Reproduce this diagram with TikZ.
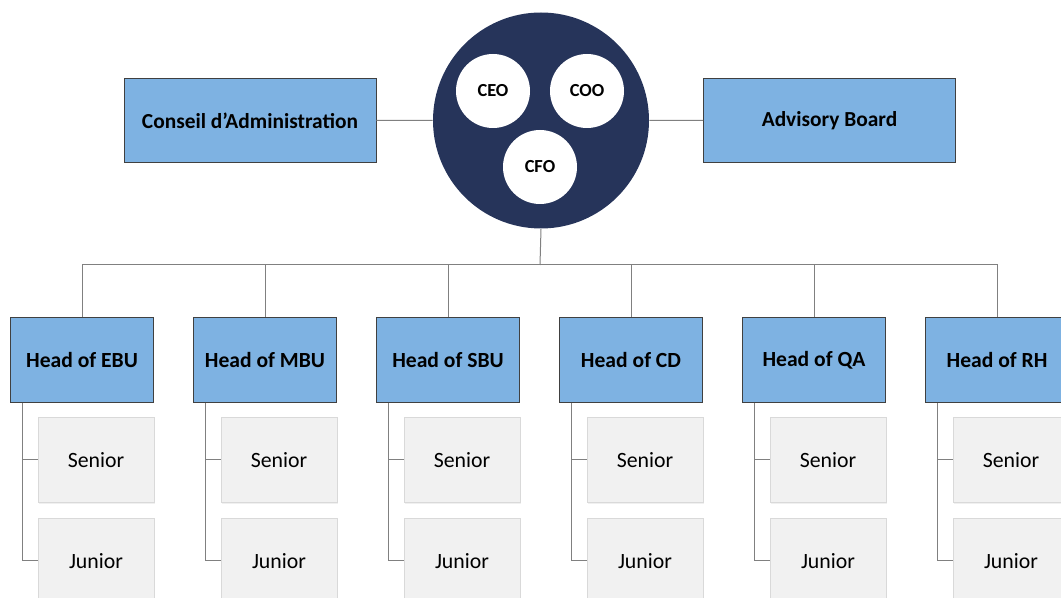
\documentclass[tikz,border=0pt]{standalone}
\usepackage{fontspec}
\setmainfont{Carlito}
\usetikzlibrary{positioning,shadows}
\definecolor{execnavy}{RGB}{38,52,90}
\definecolor{headblue}{RGB}{126,178,226}
\definecolor{staffgray}{RGB}{241,241,241}

\begin{document}
\begin{tikzpicture}[x=0.5pt,y=-0.5pt,on grid,node distance=91.5pt,
		board/.style={draw=black!75,fill=headblue,minimum width=126pt,minimum height=42pt,font=\bfseries\fontsize{10.7}{12}\selectfont},
		head/.style={draw=black!75,fill=headblue,minimum width=71.5pt,minimum height=42.5pt,font=\bfseries\fontsize{10.8}{12}\selectfont},
		staff/.style={draw=black!15,fill=staffgray,minimum width=58pt,minimum height=42.5pt,font=\fontsize{10.9}{12}\selectfont,
			drop shadow={opacity=0.12,shadow xshift=0.6pt,shadow yshift=-0.6pt}},
		chief/.style={circle,fill=white,minimum size=37pt,inner sep=0pt,font=\bfseries\fontsize{9.2}{10}\selectfont},
		link/.style={draw=black!50,line width=0.5pt}]
					\useasboundingbox (0,0) rectangle (1061,598);
					\clip (0,0) rectangle (1061,598);
					
					\node[circle,fill=execnavy,minimum size=108pt,inner sep=0pt] (exec) at (541,120.5) {};
					\node[chief] (ceo) at (493,91)  {CEO};
					\node[chief] (coo) at (587,91)  {COO};
					\node[chief] (cfo) at (540,167) {CFO};
					
					\node[board] (council)  at (250,120.5)   {Conseil d’Administration};
					\node[board] (advisory) at (829.5,120.5) {Advisory Board};
					
					\node[head] (ebu)       at (82,360)    {Head of EBU};
					\node[head] (mbu) [right=of ebu] {Head of MBU};
					\node[head] (sbu) [right=of mbu] {Head of SBU};
					\node[head] (cd)  [right=of sbu] {Head of CD};
					\node[head] (qa)  [right=of cd]  {Head of QA};
					\node[head] (rh)  [right=of qa]  {Head of RH};
					
					\foreach \h in {ebu,mbu,sbu,cd,qa,rh}{
						\node[staff] (\h S) [below right=50pt and 7pt of \h] {Senior};
						\node[staff] (\h J) [below=50.5pt of \h S]           {Junior};
						\path[link] ([xshift=6pt]\h.south west) |- (\h S.west)
						            ([xshift=6pt]\h.south west) |- (\h J.west);
					}
					
					\coordinate (bus) at (540,265);
					\path[link] (council) -- (exec)
					            (exec) -- (advisory)
					            (exec.south) -- (bus);
					\foreach \h in {ebu,mbu,sbu,cd,qa,rh}
						\path[link] (bus) -| (\h.north);
				\end{tikzpicture}
\end{document}
